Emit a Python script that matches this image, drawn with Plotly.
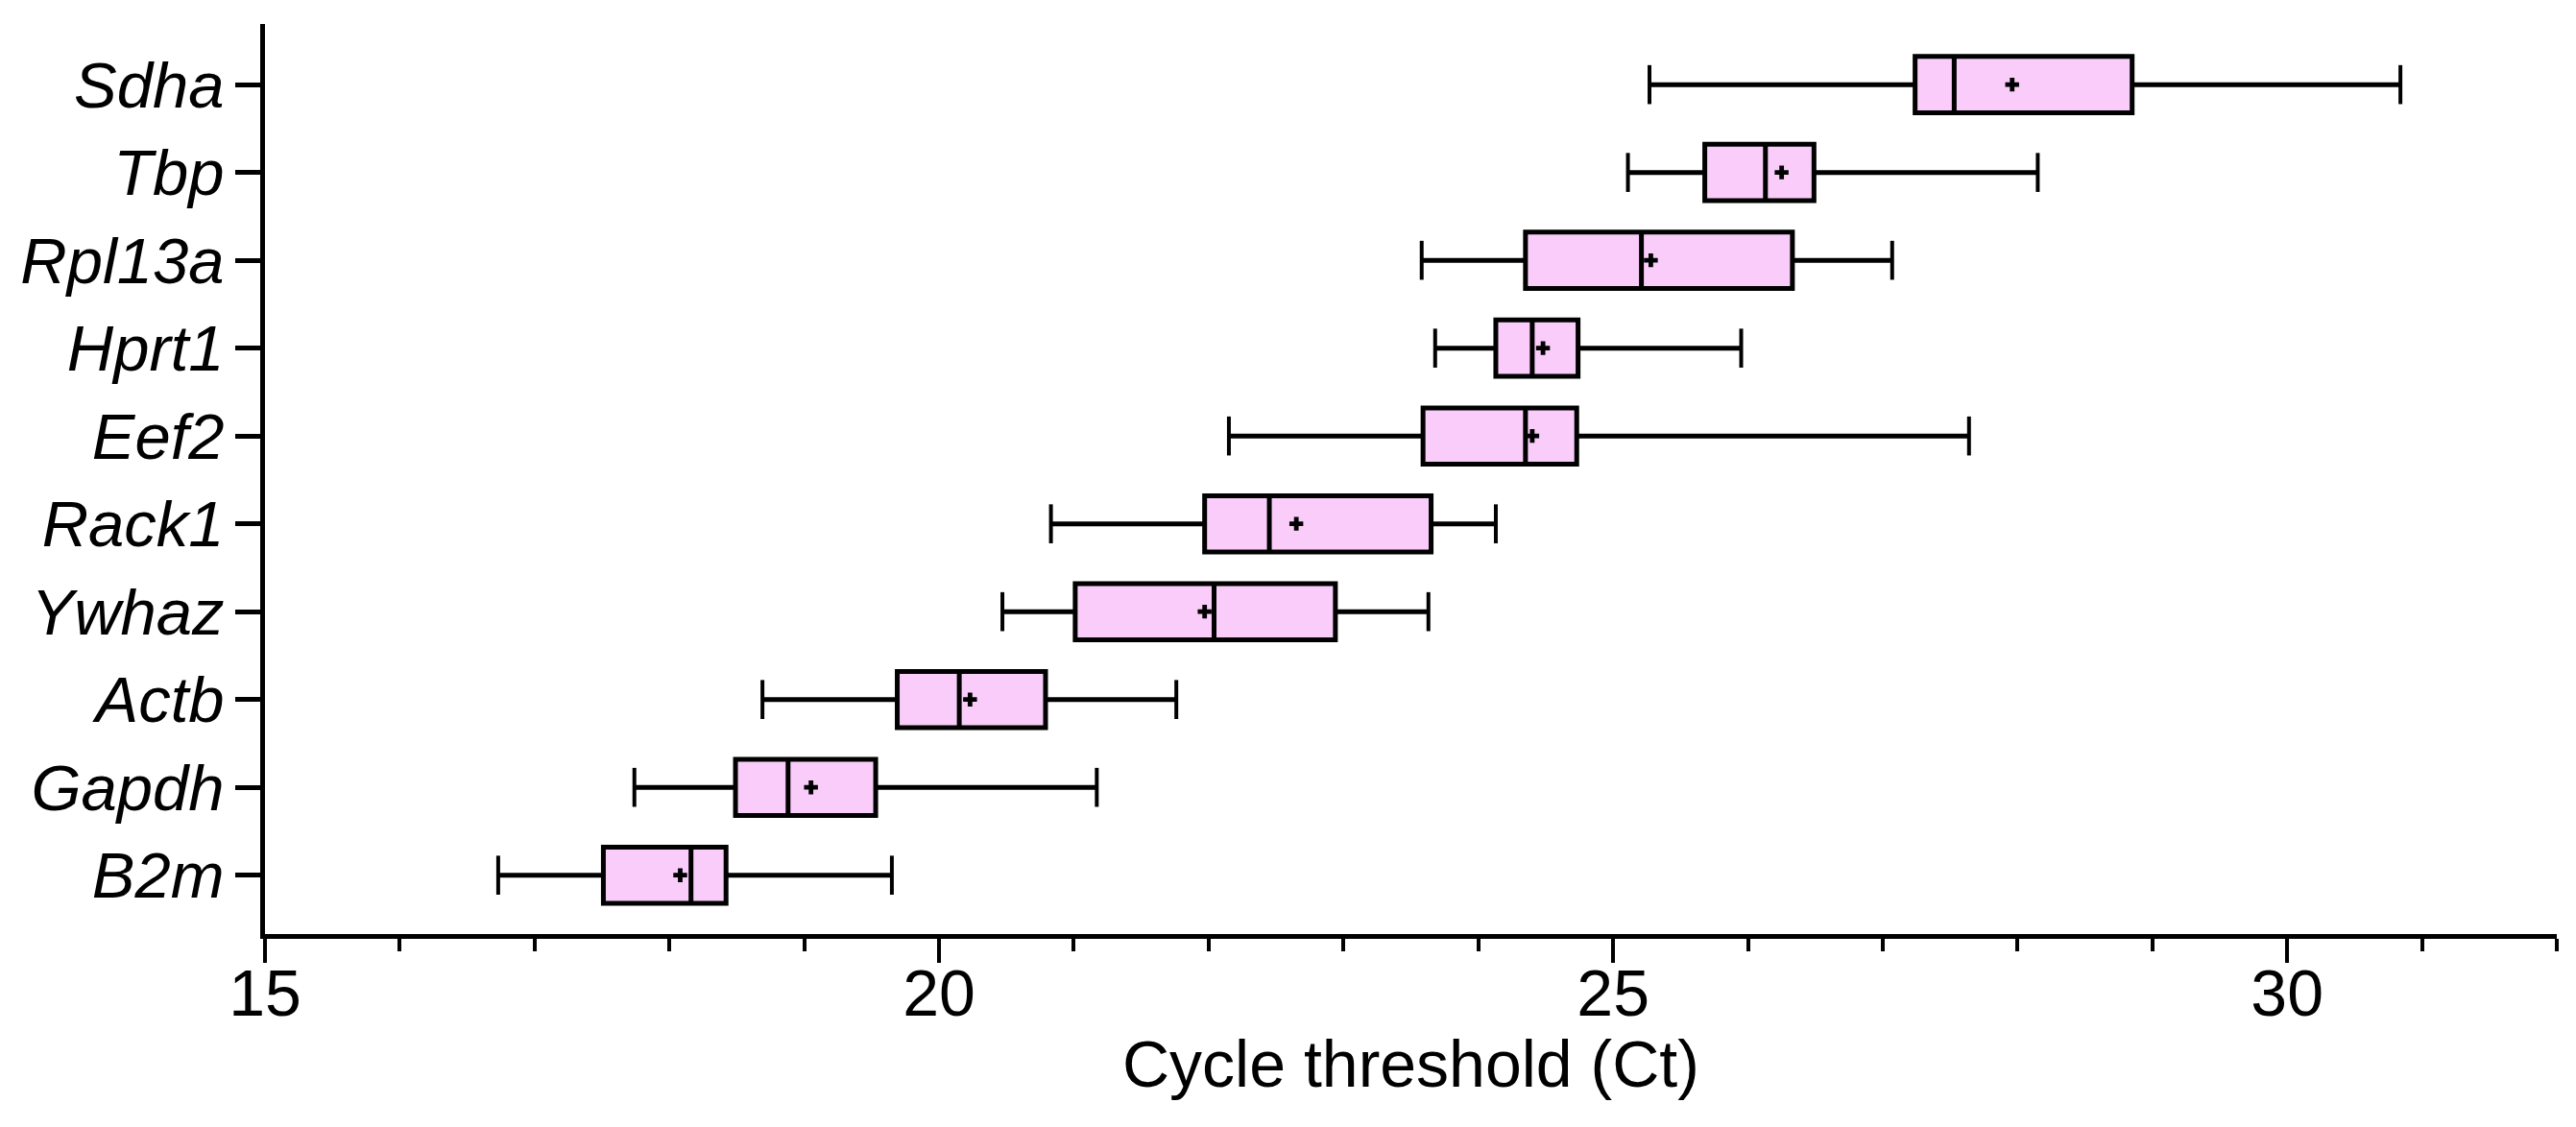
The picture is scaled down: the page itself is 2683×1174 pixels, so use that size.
import plotly.graph_objects as go

genes = ["B2m", "Gapdh", "Actb", "Ywhaz", "Rack1", "Eef2", "Hprt1", "Rpl13a", "Tbp", "Sdha"]
lower = [16.73, 17.74, 18.69, 20.47, 20.83, 22.15, 23.68, 23.58, 25.11, 25.27]
q1 = [17.51, 18.49, 19.69, 21.01, 21.97, 23.59, 24.13, 24.35, 25.68, 27.24]
median = [18.16, 18.88, 20.15, 22.04, 22.45, 24.35, 24.40, 25.21, 26.13, 27.53]
q3 = [18.42, 19.53, 20.79, 22.94, 23.65, 24.73, 24.74, 26.33, 26.49, 28.85]
upper = [19.65, 21.17, 21.76, 23.63, 24.13, 27.64, 25.95, 27.07, 28.15, 30.84]
mean = [18.08, 19.05, 20.23, 21.97, 22.65, 24.40, 24.48, 25.28, 26.25, 27.96]

x_ticks = [15, 20, 25, 30]
x_title = "Cycle threshold (Ct)"

FONT = "Liberation Sans, Arial, sans-serif"

fig = go.Figure()
fig.add_trace(go.Box(
    y=genes, q1=q1, median=median, q3=q3,
    lowerfence=lower, upperfence=upper,
    orientation="h", boxpoints=False,
    fillcolor="#F9CCF9", line=dict(color="black", width=5),
    width=0.64, whiskerwidth=0, showlegend=False, hoverinfo="skip",
))
# whisker caps
fig.add_trace(go.Scatter(
    x=lower + upper, y=genes + genes, mode="markers",
    marker=dict(symbol="line-ns", size=29, line=dict(color="black", width=4)),
    showlegend=False, hoverinfo="skip",
))
# means
fig.add_trace(go.Scatter(
    x=mean, y=genes, mode="markers",
    marker=dict(symbol="cross", size=12, color="black", line=dict(width=0)),
    showlegend=False, hoverinfo="skip",
))

fig.add_annotation(
    text=x_title, xref="paper", yref="paper", x=0.5, y=-0.1429,
    xanchor="center", yanchor="middle", showarrow=False,
    font=dict(size=68, family=FONT, color="black"),
)

fig.update_layout(
    width=2667, height=1158,
    margin=dict(l=268, r=12, t=17, b=193),
    paper_bgcolor="white", plot_bgcolor="white",
    font=dict(family=FONT, color="black"),
    xaxis=dict(
        range=[15, 32], tickmode="array", tickvals=x_ticks,
        ticks="outside", ticklen=25, tickwidth=4, tickcolor="black",
        showline=True, linewidth=5, linecolor="black",
        showgrid=False, zeroline=False,
        tickfont=dict(size=68, family=FONT),
        ticklabelstandoff=-27,
        minor=dict(dtick=1, tick0=15, ticks="outside", ticklen=13, tickwidth=3.5, tickcolor="black", showgrid=False),
    ),
    yaxis=dict(
        type="category", categoryorder="array", categoryarray=genes,
        range=[-0.67, 9.69],
        ticks="outside", ticklen=26, tickwidth=4.5, tickcolor="black",
        showline=True, linewidth=5, linecolor="black",
        showgrid=False, zeroline=False,
        tickfont=dict(size=67, family=FONT, style="italic"),
        ticklabelstandoff=-2,
    ),
)

fig.write_html("out.html")
